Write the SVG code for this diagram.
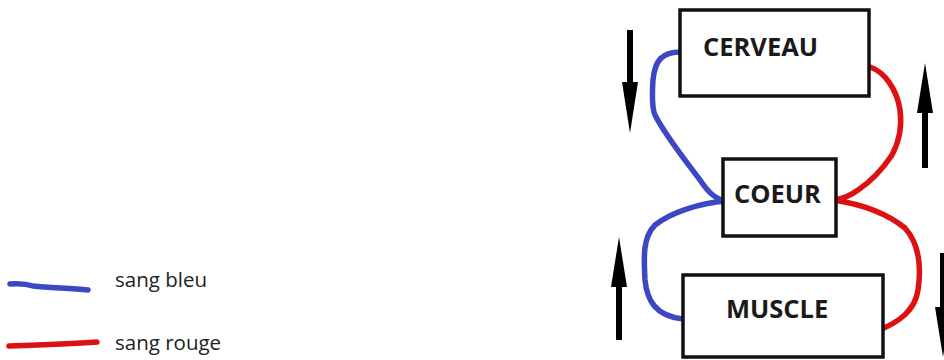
<svg xmlns="http://www.w3.org/2000/svg" width="944" height="360" viewBox="0 0 944 360">
<defs>
<style>
.box{fill:#fff;stroke:#111;stroke-width:3.5}
.lbl{font-family:"Open Sans","Noto Sans",sans-serif;font-weight:bold;font-size:25.5px;fill:#1a1a1a}
.leg{font-family:"Open Sans","Noto Sans",sans-serif;font-size:20.5px;fill:#222}
.blue{fill:none;stroke:#3c47c4;stroke-width:5.5;stroke-linecap:round;stroke-linejoin:round}
.red{fill:none;stroke:#dd1111;stroke-width:5.5;stroke-linecap:round;stroke-linejoin:round}
.arr{fill:none;stroke:#000;stroke-width:6}
.head{fill:#000}
</style>
</defs>
<rect width="944" height="360" fill="#fff"/>
<g id="legend">
<path class="blue" d="M10,284 C20,283 27,284 33,286 C50,288 70,288 88,290"/>
<text class="leg" x="115" y="287">sang bleu</text>
<path class="red" d="M9,346 C40,345 70,344 97,342"/>
<text class="leg" x="115" y="350">sang rouge</text>
</g>
<g id="connectors">
<path class="blue" d="M681,52 C662,52 655,60 653,80 C652,95 652,108 655,115 C665,135 685,160 700,180 C708,192 715,199 726,201"/>
<path class="blue" d="M726,201 C700,203 672,212 655,225 C642,238 644,260 645,280 C647,300 655,316 683,319"/>
<path class="red" d="M870,67 C885,72 897,90 900,110 C902,125 900,140 892,155 C882,170 870,182 858,190 C850,196 842,199 834,200"/>
<path class="red" d="M834,200 C860,204 885,212 905,228 C920,245 921,270 918,290 C915,310 900,322 877,331"/>
</g>
<g id="arrows">
<line class="arr" x1="630" y1="30" x2="630" y2="95"/>
<polygon class="head" points="622,82 638,82 630,133"/>
<line class="arr" x1="925" y1="168" x2="925" y2="100"/>
<polygon class="head" points="917,113 933,113 925,63"/>
<line class="arr" x1="619" y1="340" x2="619" y2="275"/>
<polygon class="head" points="611,287 627,287 619,237"/>
<line class="arr" x1="943" y1="253" x2="943" y2="320"/>
<polygon class="head" points="935,307 951,307 943,357"/>
</g>
<g id="cerveau">
<rect class="box" x="680" y="10" width="189" height="86"/>
<text class="lbl" x="703" y="56">CERVEAU</text>
</g>
<g id="coeur">
<rect class="box" x="723" y="159" width="113" height="77"/>
<text class="lbl" x="734" y="203">COEUR</text>
</g>
<g id="muscle">
<rect class="box" x="683" y="275" width="200" height="82"/>
<text class="lbl" x="726" y="318">MUSCLE</text>
</g>
</svg>
